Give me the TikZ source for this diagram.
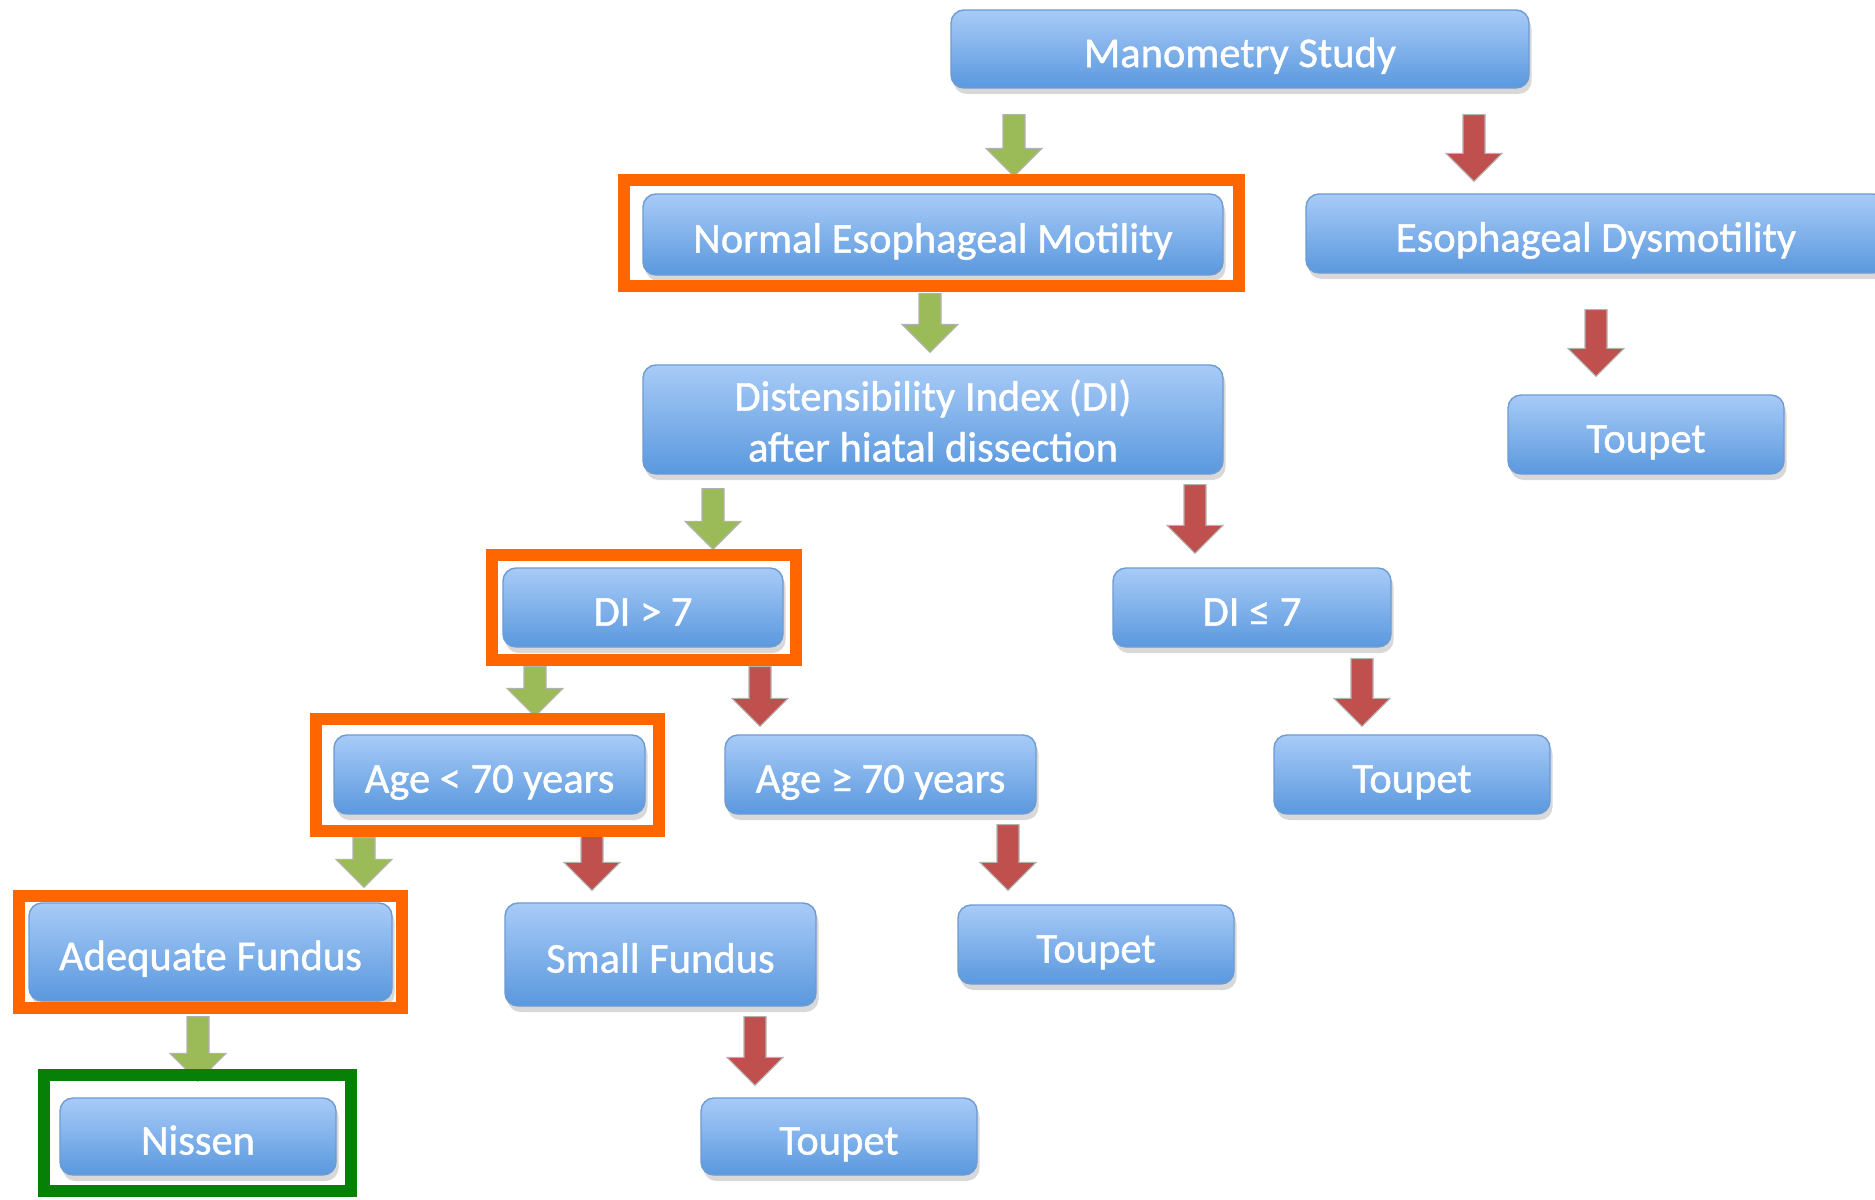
\documentclass[tikz,border=0pt]{standalone}
\usepackage{fontspec}
\setmainfont{Carlito}
\newfontfamily\boxfont[FakeBold=1.0]{Carlito}
\usetikzlibrary{calc,shadows}
\definecolor{boxtop}{RGB}{168,203,247}
\definecolor{boxbot}{RGB}{90,152,222}
\definecolor{boxline}{RGB}{110,155,210}
\definecolor{garr}{RGB}{155,187,89}
\definecolor{rarr}{RGB}{192,80,77}
\definecolor{hlorange}{RGB}{255,102,0}
\definecolor{hlgreen}{RGB}{6,128,6}
\tikzset{
  flowbase/.style={rectangle, rounded corners=1.3mm, top color=boxtop, bottom color=boxbot,
    draw=boxline, line width=0.4pt, text=white,
    font=\boxfont\fontsize{12.1}{14.5}\selectfont, inner sep=0pt,
    drop shadow={shadow xshift=0.25mm, shadow yshift=-0.6mm, opacity=0.25, fill=black!60}},
  flowbox/.style={flowbase, text height=10.8pt, text depth=0.5pt},
  flowtwo/.style={flowbase, text height=24.4pt, text depth=0.5pt},
  garrow/.style={fill=garr, draw=black!30, line width=0.3pt},
  rarrow/.style={fill=rarr, draw=black!30, line width=0.3pt},
  hlo/.style={draw=hlorange, line width=1.2mm},
  hlg/.style={draw=hlgreen, line width=1.2mm},
}
% style, from, to, x, start gap, end gap
\newcommand\barrow[6]{%
  \path (#4,0) coordinate (tmpx);
  \path ($(#2.south -| tmpx)+(0,#5)$) coordinate (as) ($(#3.north -| tmpx)+(0,-#6)$) coordinate (ae);
  \filldraw[#1] let \p1=(as), \p2=(ae) in
    (\x1-1.1mm,\y1) -- (\x1+1.1mm,\y1) -- (\x1+1.1mm,\y2+2.8mm) -- (\x1+2.8mm,\y2+2.8mm)
    -- (\x1,\y2) -- (\x1-2.8mm,\y2+2.8mm) -- (\x1-1.1mm,\y2+2.8mm) -- cycle;
}
\begin{document}
\begin{tikzpicture}[x=0.1mm, y=-0.1mm]
\clip (0,0) rectangle (1875,1200);
\fill[white] (0,0) rectangle (1875,1200);

\node[flowbox, minimum width=57.8mm, minimum height=7.8mm] (man) at (1240,49) {Manometry Study};
\node[flowbox, minimum width=58mm, minimum height=8.1mm] (norm) at (933,234.5) {Normal Esophageal Motility};
\node[flowbox, minimum width=58mm, minimum height=7.9mm] (dys) at (1596,233.5) {Esophageal Dysmotility};
\node[flowbox, minimum width=27.6mm, minimum height=7.9mm] (tr1) at (1646,434.5) {Toupet};
\node[flowtwo, minimum width=58mm, minimum height=10.9mm] (di) at (933,419.5) {\begin{tabular}[b]{@{}c@{}}Distensibility Index (DI)\\after hiatal dissection\end{tabular}};
\node[flowbox, minimum width=28mm, minimum height=7.9mm] (dig) at (643,607.5) {DI > 7};
\node[flowbox, minimum width=27.8mm, minimum height=7.9mm] (dil) at (1252,607.5) {DI ≤ 7};
\node[flowbox, minimum width=27.6mm, minimum height=7.9mm] (t2) at (1412,774.5) {Toupet};
\node[flowbox, minimum width=31.1mm, minimum height=7.9mm] (ageL) at (489.5,774.5) {Age < 70 years};
\node[flowbox, minimum width=31.1mm, minimum height=7.9mm] (ageG) at (880.5,774.5) {Age ≥ 70 years};
\node[flowbox, minimum width=27.6mm, minimum height=7.9mm] (t3) at (1096,944.5) {Toupet};
\node[flowbox, minimum width=36.3mm, minimum height=9.8mm] (adq) at (210.5,952) {Adequate Fundus};
\node[flowbox, minimum width=31.1mm, minimum height=10.3mm] (small) at (660.5,954.5) {Small Fundus};
\node[flowbox, minimum width=27.6mm, minimum height=7.7mm] (nis) at (198,1136.5) {Nissen};
\node[flowbox, minimum width=27.6mm, minimum height=7.7mm] (t4) at (839,1136.5) {Toupet};

\barrow{garrow}{man}{norm}{1014}{26}{17}
\barrow{rarrow}{man}{dys}{1474}{26}{12}
\barrow{garrow}{norm}{di}{930}{18}{12}
\barrow{rarrow}{dys}{tr1}{1596}{36}{18}
\barrow{garrow}{di}{dig}{713}{14}{18}
\barrow{rarrow}{di}{dil}{1195}{10}{14}
\barrow{garrow}{dig}{ageL}{535}{19}{18}
\barrow{rarrow}{dig}{ageG}{760}{19}{8}
\barrow{rarrow}{dil}{t2}{1362}{11}{8}
\barrow{garrow}{ageL}{adq}{364}{23}{15}
\barrow{rarrow}{ageL}{small}{592}{11}{12}
\barrow{rarrow}{ageG}{t3}{1008}{10}{14}
\barrow{garrow}{adq}{nis}{198}{15}{16}
\barrow{rarrow}{small}{t4}{755}{10}{12}

\draw[hlo] ($(norm.north west)+(-18,-13)$) rectangle ($(norm.south east)+(15,10)$);
\draw[hlo] ($(dig.north west)+(-10,-12)$) rectangle ($(dig.south east)+(12,12)$);
\draw[hlo] ($(ageL.north west)+(-17,-15)$) rectangle ($(ageL.south east)+(13,16)$);
\draw[hlo] ($(adq.north west)+(-9,-6)$) rectangle ($(adq.south east)+(9,6)$);
\draw[hlg] ($(nis.north west)+(-15,-22)$) rectangle ($(nis.south east)+(14,15)$);
\end{tikzpicture}
\end{document}
